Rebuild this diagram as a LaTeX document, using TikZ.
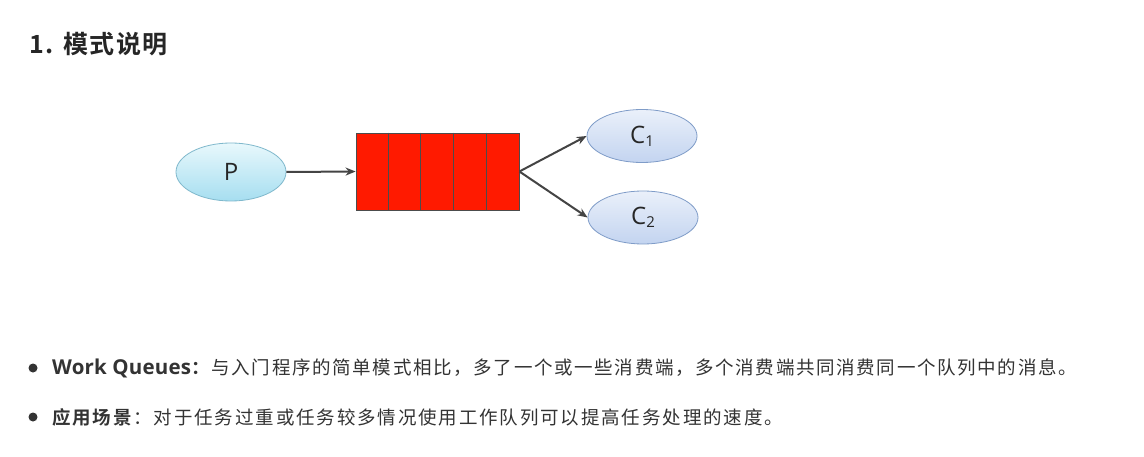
\documentclass[tikz,border=0pt]{standalone}
\usepackage{fontspec}
\setmainfont{Noto Sans CJK SC}[LetterSpace=10, BoldFont={* Bold}]
\newfontfamily\lineonefont{Noto Sans CJK SC}[LetterSpace=9, BoldFont={* Bold}]
\newfontfamily\titlefont{Noto Sans CJK SC}[LetterSpace=6, BoldFont={* Bold}]
\newfontfamily\latinsans{Open Sans}[LetterSpace=1]
\newfontfamily\labelfont{Open Sans}
\usetikzlibrary{arrows.meta,shapes.geometric}
\definecolor{txt}{HTML}{333333}
\definecolor{qred}{HTML}{FF1A00}
\definecolor{arr}{HTML}{444444}
\definecolor{ptop}{HTML}{E8F8FC}
\definecolor{pbot}{HTML}{A6DEF0}
\definecolor{pline}{HTML}{7FB8CC}
\definecolor{ctop}{HTML}{EAF0FA}
\definecolor{cbot}{HTML}{C3D4F0}
\definecolor{cline}{HTML}{7F9CC8}
\tikzset{
  prod/.style={ellipse, draw=pline, line width=0.8pt, top color=ptop, bottom color=pbot, minimum width=110pt, minimum height=58pt, inner sep=0pt, font=\labelfont\fontsize{24}{24}\selectfont, text=black!85},
  cons/.style={ellipse, draw=cline, line width=0.8pt, top color=ctop, bottom color=cbot, minimum width=110pt, minimum height=53pt, inner sep=0pt, font=\labelfont\fontsize{24}{24}\selectfont, text=black!85},
  flow/.style={-{Stealth[length=10pt,width=8pt]}, draw=arr, line width=2pt},
  bullettext/.style={anchor=west, inner sep=0pt, text=txt, font=\fontsize{18.5}{20}\selectfont},
  dot/.style={circle, fill=txt, minimum size=9pt, inner sep=0pt}
}
\begin{document}
\begin{tikzpicture}[x=1pt,y=-1pt]
\useasboundingbox[fill=white] (0,0) rectangle (1144,457);
\node[anchor=west, inner sep=0pt, text=black!85, font=\titlefont\bfseries\fontsize{25}{25}\selectfont] (title) at (29,44) {1. 模式说明};
\node[prod] (P) at (231,172) {P};
\node[draw=black!70, line width=0.8pt, fill=qred, minimum width=163pt, minimum height=77pt, inner sep=0pt] (Q) at (437.5,171.5) {};
\foreach \i in {1,2,3,4} {
  \draw[black!70, line width=0.9pt] ([xshift=32.6*\i pt]Q.north west) -- ([xshift=32.6*\i pt]Q.south west);
}
\node[cons] (C1) at (642,136) {C\raisebox{-3pt}{\fontsize{15}{15}\selectfont 1}};
\node[cons] (C2) at (643,217.5) {C\raisebox{-3pt}{\fontsize{15}{15}\selectfont 2}};
\draw[flow] (P.east) -- (Q.west);
\draw[flow] (Q.east) -- (C1.west);
\draw[flow] (Q.east) -- (C2.west);
\node[dot] (d1) at (33,368) {};
\node[bullettext] (t1) at (52,368) {{\latinsans\bfseries\fontsize{20.5}{21}\selectfont Work Queues}{\lineonefont\textbf{：}与入门程序的简单模式相比，多了一个或一些消费端，多个消费端共同消费同一个队列中的消息。}};
\node[dot] (d2) at (33,417) {};
\node[bullettext] (t2) at (52,417) {\textbf{应用场景}：对于任务过重或任务较多情况使用工作队列可以提高任务处理的速度。};
\end{tikzpicture}
\end{document}
